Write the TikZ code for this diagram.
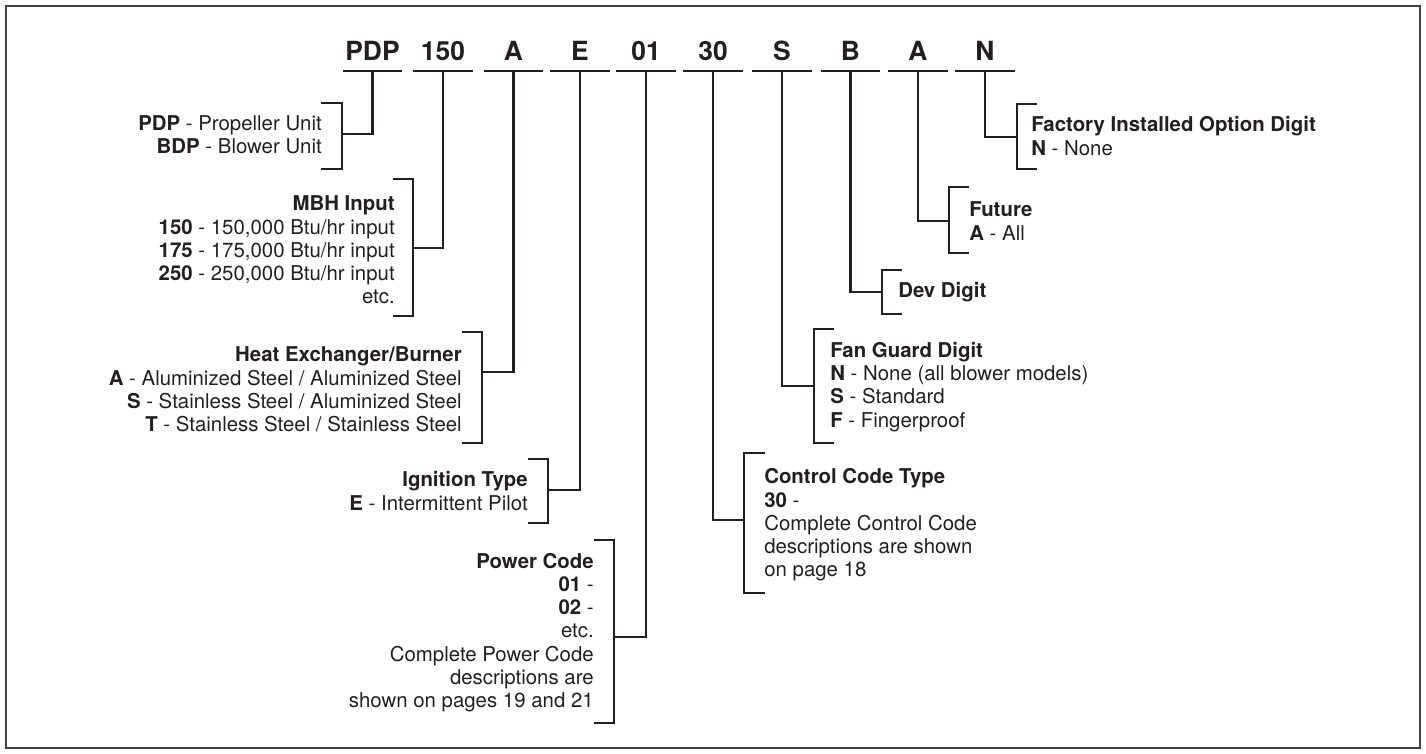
\documentclass[tikz,border=0pt]{standalone}
\usepackage{fontspec}
\setmainfont{TeX Gyre Heros}
\definecolor{ink}{HTML}{231F20}
\begin{document}
\begin{tikzpicture}[x=0.5pt, y=-0.5pt, ink, line width=1.3pt,
    codebox/.style={font=\bfseries\fontsize{13.2}{13.2}\selectfont, anchor=south,
        minimum width=28.5pt, inner xsep=0pt, inner ysep=4.5pt, text depth=0pt},
    lbl/.style={font=\fontsize{10.2}{11.6}\selectfont, inner sep=0pt},
    lbll/.style={lbl, anchor=east, align=right},
    lblr/.style={lbl, anchor=west, align=left}]
    \useasboundingbox (0,0) rectangle (1426,754);
    \draw[line width=1pt, ink!85] (6,6) rectangle (1420,748);
    % Model number digits
    \foreach \n/\x/\t in {pdp/372.5/PDP, mbh/443/150, hx/513.5/A, ign/580/E,
        pwr/646/01, ctl/713/30, fan/782/S, dev/850.5/B, fut/918/A, fio/985/N}
    {
        \node[codebox] (\n) at (\x,71) {\t};
        \draw (\n.south west) -- (\n.south east);
    }
    % Brackets
    \foreach \xa/\xb/\t/\b in {321/342/103/169, 393/413/179/316, 462/482/332/443,
        528/548/459/523, 594/614/540/723, 765/744/453/593, 834/814/329/443,
        902/882/270/314, 969/949/187/253, 1037/1017/104/169}
        \draw (\xa,\t) -| (\xb,\b) -- (\xa,\b);
    % Junctions
    \coordinate (pdpj) at (342,134);
    \coordinate (mbhj) at (413,248);
    \coordinate (hxj) at (482,372);
    \coordinate (ignj) at (548,490);
    \coordinate (pwrj) at (614,637);
    \coordinate (ctlj) at (744,520);
    \coordinate (fanj) at (814,386);
    \coordinate (devj) at (882,292);
    \coordinate (futj) at (949,221);
    \coordinate (fioj) at (1017,137);
    \foreach \n in {pdp, mbh, hx, ign, pwr, ctl, fan, dev, fut, fio}
        \draw (\n.south) |- (\n j);
    % Descriptions
    \node[lbll] (pdpt) at (323,135) {\textbf{PDP} - Propeller Unit\\\textbf{BDP} - Blower Unit};
    \node[lbll] (mbht) at (396,250) {\textbf{MBH Input}\\\textbf{150} - 150,000 Btu/hr input\\
        \textbf{175} - 175,000 Btu/hr input\\\textbf{250} - 250,000 Btu/hr input\\etc.};
    \node[lbll] (hxt) at (463,389.5) {\textbf{Heat Exchanger/Burner}\\
        \textbf{A} - Aluminized Steel / Aluminized Steel\\
        \textbf{S} - Stainless Steel / Aluminized Steel\\
        \textbf{T} - Stainless Steel / Stainless Steel};
    \node[lbll] (ignt) at (529,491) {\textbf{Ignition Type}\\\textbf{E} - Intermittent Pilot};
    \node[lbll] (pwrt) at (595,632.5) {\textbf{Power Code}\\\textbf{01} -\\\textbf{02} -\\etc.\\
        Complete Power Code\\descriptions are\\shown on pages 19 and 21};
    \node[lblr] (ctlt) at (763,525) {\textbf{Control Code Type}\\\textbf{30} -\\
        Complete Control Code\\descriptions are shown\\on page 18};
    \node[lblr] (fant) at (829,387) {\textbf{Fan Guard Digit}\\\textbf{N} - None (all blower models)\\
        \textbf{S} - Standard\\\textbf{F} - Fingerproof};
    \node[lblr] (devt) at (897,292) {\textbf{Dev Digit}};
    \node[lblr] (futt) at (968,221) {\textbf{Future}\\\textbf{A} - All};
    \node[lblr] (fiot) at (1030,136) {\textbf{Factory Installed Option Digit}\\\textbf{N} - None};
\end{tikzpicture}
\end{document}
